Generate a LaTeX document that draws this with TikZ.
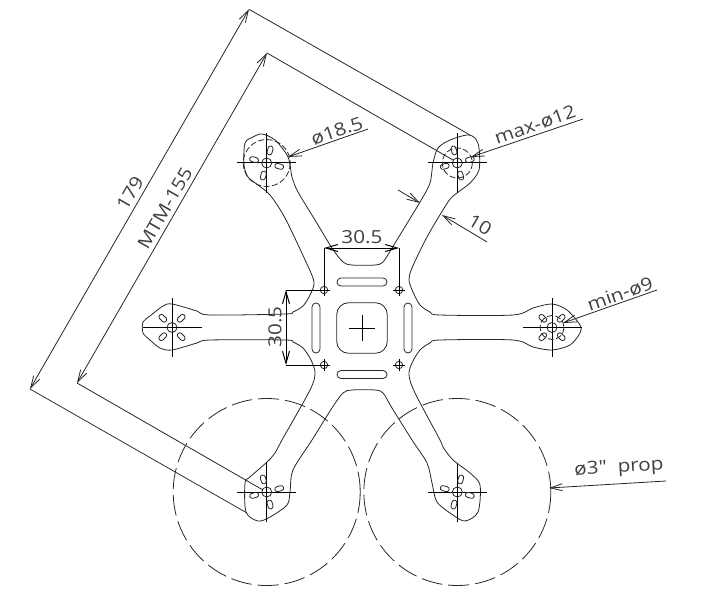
\documentclass[tikz,border=0pt]{standalone}
\usepackage{fontspec}
\setmainfont[FakeStretch=1.15,Ligatures=TeXOff]{Open Sans}
\usetikzlibrary{arrows.meta,shapes.misc,calc}
\tikzset{
	outline/.style={line width=0.8pt,black!85},
	center line/.style={line width=1pt,black},
	ext line/.style={line width=0.8pt,black!85},
	dim/.style={line width=0.8pt,black!85,{Straight Barb[length=12pt,width=7pt]}-{Straight Barb[length=12pt,width=7pt]}},
	lead/.style={line width=0.8pt,black!85,-{Straight Barb[length=12pt,width=7pt]}},
	thick dim/.style={line width=1pt,black,{Straight Barb[length=12pt,width=7pt]}-{Straight Barb[length=12pt,width=7pt]}},
	label/.style={font=\fontsize{18}{18}\selectfont,text=black!75,inner sep=0pt},
	prop circle/.style={line width=0.8pt,black!85,dash pattern=on 21pt off 6pt},
	bolt circle/.style={line width=0.8pt,black!85,dash pattern=on 6pt off 2.5pt},
	motor slot/.style={draw,outline,rounded rectangle,minimum width=9pt,minimum height=5pt,inner sep=0pt},
	plate slot/.style={draw,outline,rounded rectangle,minimum height=8pt,inner sep=0pt}
}
\begin{document}
\begin{tikzpicture}[x=1pt,y=-1pt]
\useasboundingbox (0,0) rectangle (714,596);

\coordinate (tl) at (266.7,163);
\coordinate (tr) at (457.3,163);
\coordinate (lf) at (172,327.5);
\coordinate (rt) at (552,327.5);
\coordinate (bl) at (266.7,492);
\coordinate (br) at (457.3,492);

\draw[outline] plot[smooth cycle,tension=0.5] coordinates {
	(285,314) (293,312) (303,306) (310,295) (314,282) (306,262) (285,218)
	(270,195) (258,185) (248,177) (244,165) (245,143) (253,137) (262,134)
	(275,140) (288,157) (292,177) (298,192) (315,220) (332,248) (343,262)
	(352,265) (375,265) (383,262) (392,248) (420,202) (430,183) (433,163)
	(438,148) (450,140) (467,135) (475,138) (479,148) (479,170) (470,183)
	(457,193) (448,202) (427,237) (412,268) (409,280) (413,292) (420,305)
	(430,312) (440,315) (513,315) (533,308) (552,304) (567,310) (580,325)
	(580,333) (570,345) (552,350) (533,347) (513,340) (440,340) (430,343)
	(420,350) (412,363) (409,375) (415,393) (440,440) (443,447) (453,460)
	(470,473) (480,485) (478,512) (465,521) (453,515) (437,502) (432,483)
	(427,463) (412,440) (392,408) (383,393) (375,390) (352,390) (343,393)
	(332,408) (312,440) (293,470) (290,492) (287,505) (270,517) (258,521)
	(246,512) (245,483) (250,477) (267,462) (275,453) (282,440) (310,390)
	(315,373) (311,360) (303,348) (293,342) (285,340) (210,340) (197,343)
	(172,350) (160,348) (150,340) (143,333) (143,322) (150,316) (163,306)
	(172,304) (197,311) (210,315)};

% motors
\foreach \m/\r in {tl/0,tr/30,lf/-30,rt/-30,bl/30,br/0}{
	\draw[center line] ($(\m)+(-29.5,0)$) -- ($(\m)+(29.5,0)$);
	\draw[center line] ($(\m)+(0,-29.5)$) -- ($(\m)+(0,29.5)$);
	\draw[outline] (\m) circle (5);
	\foreach \a in {75,165,255,345}
		\node[motor slot,rotate=\a+\r] (slot-\m-\a) at ($(\m)+(-\a-\r:13)$) {};
}

% plate
\node[draw,outline,rectangle,rounded corners=12pt,minimum size=50.6pt,inner sep=0pt] (hub) at (362,328) {};
\draw[line width=0.8pt] (349,328) -- (375,328);
\draw[line width=0.8pt] (362,315) -- (362,341);
\node[plate slot,minimum width=50pt] (slot-n) at (362,282) {};
\node[plate slot,minimum width=50pt] (slot-s) at (362,374.5) {};
\node[plate slot,minimum width=50pt,rotate=90] (slot-w) at (316,328) {};
\node[plate slot,minimum width=50pt,rotate=90] (slot-e) at (408,328) {};
\foreach \n/\x/\y in {nw/324/290,ne/399/290,sw/324/365,se/399/365}{
	\coordinate (\n) at (\x,\y);
	\draw[outline] (\n) circle (3.7);
	\draw[line width=0.8pt] ($(\n)+(-6,0)$) -- ($(\n)+(6,0)$);
	\draw[line width=0.8pt] ($(\n)+(0,-6)$) -- ($(\n)+(0,6)$);
}

% circles
\draw[prop circle] (bl) circle (93.5);
\draw[prop circle] (br) circle (93.5);
\draw[bolt circle] (tl) circle (23.5);
\draw[bolt circle] (tr) circle (15);
\draw[bolt circle] (rt) circle (12);

% overall dimensions
\coordinate (a1) at (249,9.3);
\coordinate (a2) at (30,389);
\coordinate (a3) at (470,135);
\coordinate (a4) at (247,513);
\coordinate (b1) at (267,53);
\coordinate (b2) at (77,383);
\coordinate (b3) at (453,160);
\coordinate (b4) at (263,490);
\draw[ext line] (a3) -- (a1);
\draw[ext line] (a4) -- (a2);
\draw[ext line] (b3) -- (b1);
\draw[ext line] (b4) -- (b2);
\draw[dim] (a2) -- (a1);
\draw[dim] (b2) -- (b1);
\node[label,rotate=60] (size-a) at (130,193) {179};
\node[label,rotate=60] (size-b) at (165,208) {MTM-155};

% plate dimensions
\coordinate (c1) at (324,248);
\coordinate (c2) at (399,248);
\coordinate (d1) at (286,290);
\coordinate (d2) at (286,365);
\draw[center line] (c1) -- (nw);
\draw[center line] (c2) -- (ne);
\draw[center line] (d1) -- (nw);
\draw[center line] (d2) -- (sw);
\draw[thick dim] (c1) -- (c2);
\draw[thick dim] (d1) -- (d2);
\node[label] (holes-h) at (362,237) {30.5};
\node[label,rotate=90] (holes-v) at (275,327) {30.5};

% arm width
\coordinate (e1) at (398,190);
\coordinate (e2) at (420,203);
\coordinate (e3) at (487,242);
\coordinate (e4) at (442,215);
\draw[lead] (e1) -- (e2);
\draw[lead] (e3) -- (e4);
\node[label,rotate=-30] (arm) at (480,225) {10};

% leaders
\coordinate (f1) at (368,129);
\coordinate (f2) at (288,157);
\coordinate (g1) at (583,119);
\coordinate (g2) at (471,157);
\coordinate (h1) at (657,290);
\coordinate (h2) at (563,323);
\coordinate (k1) at (666,481);
\coordinate (k2) at (549,488);
\draw[lead] (f1) -- (f2);
\draw[lead] (g1) -- (g2);
\draw[lead] (h1) -- (h2);
\draw[lead] (k1) -- (k2);
\node[label,rotate=19] (bolt-a) at (337,131) {ø18.5};
\node[label,rotate=19] (bolt-b) at (535,125) {max-ø12};
\node[label,rotate=19] (bolt-c) at (620,294) {min-ø9};
\node[label,rotate=3.5] (prop) at (619,468) {ø3"\ \ prop};
\end{tikzpicture}
\end{document}
